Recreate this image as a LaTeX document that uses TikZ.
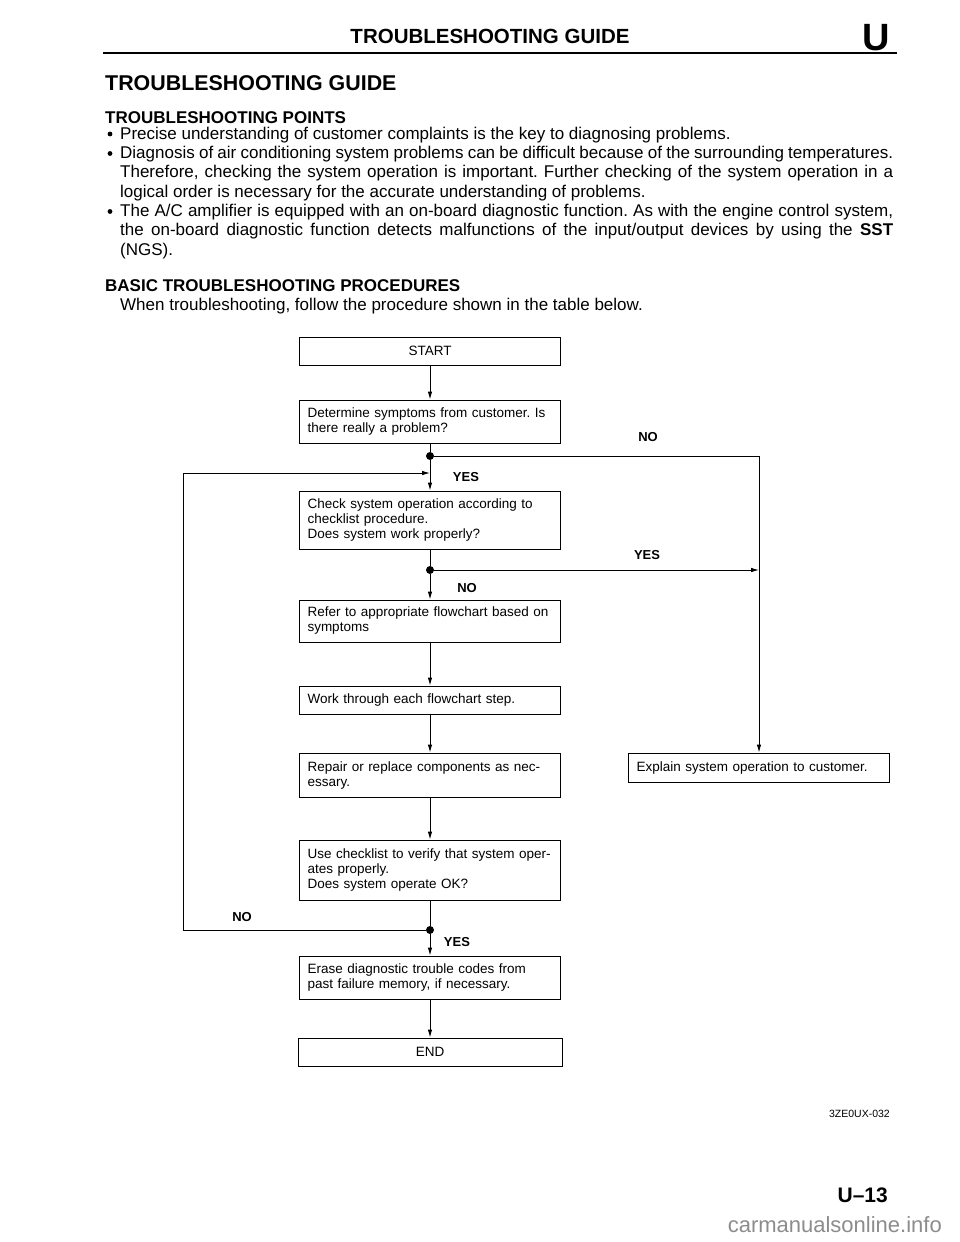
\documentclass[tikz,border=0pt]{standalone}
\usepackage{fontspec}
\setmainfont{Liberation Sans}
\usetikzlibrary{arrows.meta}
\frenchspacing

\begin{document}
\begin{tikzpicture}[x=1pt,y=-1pt,
    box/.style={draw, line width=0.9pt, text width=245pt, inner xsep=8pt, align=left,
      font=\fontsize{13.5}{15}\selectfont},
    lbl/.style={font=\fontsize{13}{13}\selectfont\bfseries},
    para/.style={inner sep=0pt, text width=773pt, align=justify, anchor=base west,
      font=\fontsize{17}{19.4}\selectfont},
    flow/.style={line width=0.9pt, -{Latex[length=8pt,width=4.5pt]}},
    link/.style={line width=0.9pt},
    dot/.style={circle, fill, inner sep=0pt, minimum size=8pt}]
    \useasboundingbox (0,0) rectangle (960,1242);

    % page header
    \node[anchor=base, font=\fontsize{20.5}{20.5}\selectfont\bfseries] (title) at (490,43) {TROUBLESHOOTING GUIDE};
    \node[anchor=base east, inner sep=0pt, font=\fontsize{38}{38}\selectfont\bfseries] (tab) at (890,50) {U};
    \draw[line width=2pt] (103,53) -- (897,53);

    \node[anchor=base west, inner sep=0pt, font=\fontsize{21.4}{21.4}\selectfont\bfseries] (head) at (105,90) {TROUBLESHOOTING GUIDE};
    \node[anchor=base west, inner sep=0pt, font=\fontsize{17}{17}\selectfont\bfseries] (points) at (105,123) {TROUBLESHOOTING POINTS};

    \fill (110,134) circle (2.4);
    \fill (110,153.5) circle (2.4);
    \fill (110,211.5) circle (2.4);
    \node[para] (pt1) at (120,139) {Precise understanding of customer complaints is the key to diagnosing problems.};
    \node[para] (pt2) at (120,158.5) {Diagnosis of air conditioning system problems can be difficult because of the surrounding temperatures.\linebreak
      Therefore, checking the system operation is important. Further checking of the system operation in a\linebreak
      logical order is necessary for the accurate understanding of problems.};
    \node[para] (pt3) at (120,216.5) {The A/C amplifier is equipped with an on-board diagnostic function. As with the engine control system,\linebreak
      the on-board diagnostic function detects malfunctions of the input/output devices by using the \textbf{SST}\linebreak
      (NGS).};

    \node[anchor=base west, inner sep=0pt, font=\fontsize{17}{17}\selectfont\bfseries] (basic) at (105,291) {BASIC TROUBLESHOOTING PROCEDURES};
    \node[para] (intro) at (120,310) {When troubleshooting, follow the procedure shown in the table below.};

    % flowchart
    \node[box, align=center, minimum height=28pt] (start) at (430,351) {START};
    \node[box, minimum height=43pt] (ask) at (430,421.5) {Determine symptoms from customer. Is\\there really a problem?};
    \node[box, minimum height=58pt] (check) at (430,520) {Check system operation according to\\checklist procedure.\\Does system work properly?};
    \node[box, minimum height=42pt] (refer) at (430,621) {Refer to appropriate flowchart based on\\symptoms};
    \node[box, minimum height=28pt] (work) at (430,700) {Work through each flowchart step.};
    \node[box, minimum height=44pt] (repair) at (430,775) {Repair or replace components as nec-\\essary.};
    \node[box, minimum height=60pt] (verify) at (430,870) {Use checklist to verify that system oper-\\ates properly.\\Does system operate OK?};
    \node[box, minimum height=43pt] (erase) at (430,977.5) {Erase diagnostic trouble codes from\\past failure memory, if necessary.};
    \node[box, align=center, text width=248pt, minimum height=28pt] (end) at (430,1052) {END};
    \node[box, minimum height=29pt] (explain) at (759,767.5) {Explain system operation to customer.};

    \node[dot] (j1) at (430,456) {};
    \node[dot] (j2) at (430,570) {};
    \node[dot] (j3) at (430,930) {};
    \coordinate (back) at (183,473);

    \draw[flow] (start) -- (ask);
    \draw[link] (ask) -- (j1);
    \draw[flow] (j1) -- (check);
    \draw[flow] (j1) -| (explain);
    \draw[link] (check) -- (j2);
    \draw[flow] (j2) -- (refer);
    \draw[flow] (j2) -- (j2 -| explain);
    \draw[flow] (refer) -- (work);
    \draw[flow] (work) -- (repair);
    \draw[flow] (repair) -- (verify);
    \draw[link] (verify) -- (j3);
    \draw[flow] (j3) -- (erase);
    \draw[flow] (erase) -- (end);
    \draw[flow] (j3) -- (j3 -| back) -- (back) -- (back -| check);

    \node[lbl] (no1) at (648,437) {NO};
    \node[lbl] (yes1) at (466,477) {YES};
    \node[lbl] (yes2) at (647,555) {YES};
    \node[lbl] (no2) at (467,588) {NO};
    \node[lbl] (no3) at (242,917) {NO};
    \node[lbl] (yes3) at (457,942) {YES};

    % page footer
    \node[anchor=base east, inner sep=0pt, font=\fontsize{10.5}{10.5}\selectfont] (code) at (890,1117) {3ZE0UX-032};
    \node[anchor=base east, inner sep=0pt, font=\fontsize{21}{21}\selectfont\bfseries] (page) at (888,1202) {U–13};
    \node[anchor=base east, inner sep=0pt, text=black!45, font=\fontsize{22}{22}\selectfont] (mark) at (942,1232) {carmanualsonline.info};
  \end{tikzpicture}
\end{document}
